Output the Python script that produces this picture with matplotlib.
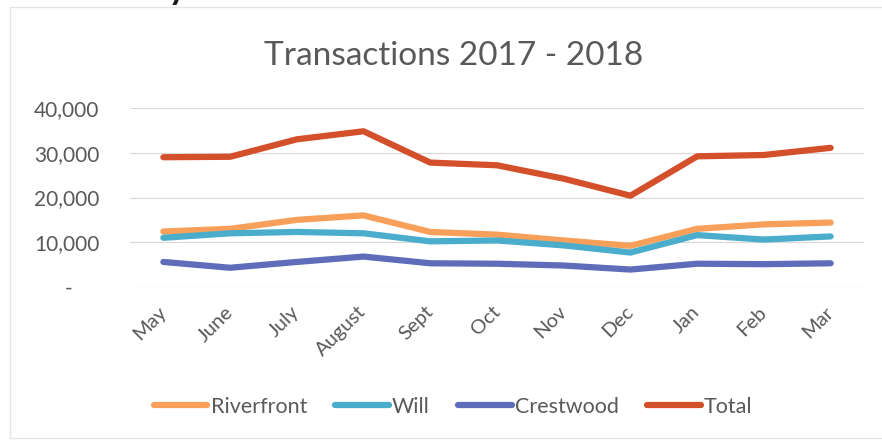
import matplotlib.pyplot as plt
import matplotlib.patches as mpatches
from matplotlib.ticker import FuncFormatter

months = ["May", "June", "July", "August", "Sept", "Oct", "Nov", "Dec", "Jan", "Feb", "Mar"]
riverfront = [12400, 13000, 15000, 16000, 12300, 11700, 10400, 9200, 13000, 14000, 14400]
will = [11000, 12000, 12300, 12000, 10200, 10400, 9300, 7700, 11600, 10600, 11300]
crestwood = [5600, 4300, 5600, 6800, 5300, 5200, 4800, 3900, 5200, 5100, 5300]
total = [29000, 29100, 33000, 34800, 27800, 27200, 24200, 20400, 29200, 29500, 31100]

series = [
    ("Riverfront", riverfront, "#F8A05A"),
    ("Will", will, "#4AADCB"),
    ("Crestwood", crestwood, "#5F6CB9"),
    ("Total", total, "#D4502B"),
]

text_color = "#595959"
plt.rcParams["font.family"] = ["Lato", "DejaVu Sans"]

fig = plt.figure(figsize=(8.82, 4.47), dpi=100)
W, H = 882, 447

# light chart frame and the heading running off the top edge
fig.patches.append(mpatches.Rectangle((10 / W, 1 - 438 / H), 1.0, (438 - 7) / H,
                                      transform=fig.transFigure, fill=False,
                                      edgecolor="#E4E4E4", linewidth=1.0))
fig.text(495 / W, 1 + 1 / H, "May 2017 - March 2018", ha="right", va="baseline",
         fontsize=25, fontweight="bold", color="#1A1A1A")

ax = fig.add_axes([130 / W, 1 - 287 / H, (864 - 130) / W, (287 - 108) / H])

x = list(range(len(months)))
for name, values, color in series:
    ax.plot(x, values, color=color, linewidth=4.5, solid_capstyle="round",
            solid_joinstyle="round", label=name)

ax.set_xlim(-0.5, len(months) - 0.5)
ax.set_ylim(0, 40000)
ax.set_yticks([0, 10000, 20000, 30000, 40000])
ax.yaxis.set_major_formatter(FuncFormatter(lambda v, p: "-     " if v == 0 else f"{v:,.0f}"))
ax.grid(True, axis="y", color="#DADADA", linewidth=0.9)
ax.set_axisbelow(True)
for s in ax.spines.values():
    s.set_visible(False)

ax.set_xticks(x)
ax.set_xticklabels(months, rotation=45, ha="right", va="center", rotation_mode="anchor")
ax.tick_params(axis="both", length=0, colors=text_color, labelsize=14.5)
ax.tick_params(axis="x", pad=16)
ax.tick_params(axis="y", pad=22, labelsize=15)

fig.text(454 / W, 1 - 56 / H, "Transactions 2017 - 2018", ha="center", va="center",
         fontsize=24, color=text_color)

fig.legend(loc="center", bbox_to_anchor=(453 / W, 1 - 407 / H), ncol=4, frameon=False,
           fontsize=15.5, handlelength=2.5, handletextpad=0.15, columnspacing=1.3,
           labelcolor=text_color)

fig.savefig("out.png", dpi=100)
